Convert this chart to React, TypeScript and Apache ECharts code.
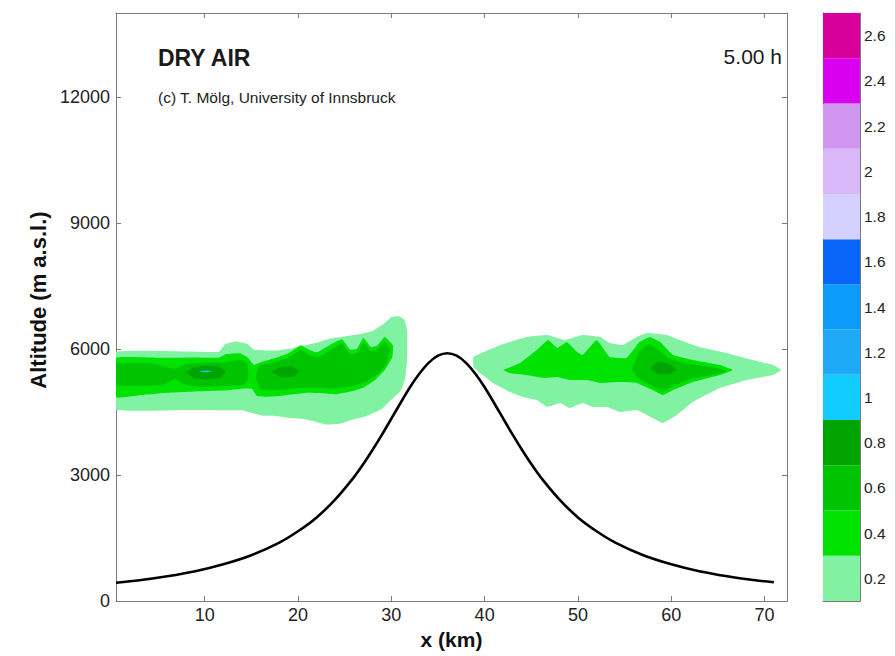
import React, { useEffect, useRef } from "react";
import * as echarts from "echarts";

// ---------- axis ticks ----------
const xTicks = [10, 20, 30, 40, 50, 60, 70];
const yTicks = [0, 3000, 6000, 9000, 12000];
const cbTicks = [0.2, 0.4, 0.6, 0.8, 1, 1.2, 1.4, 1.6, 1.8, 2, 2.2, 2.4, 2.6];

// ---------- colour bar levels ----------
const cbEdges = [0.1, 0.3, 0.5, 0.7, 0.9, 1.1, 1.3, 1.5, 1.7, 1.9, 2.1, 2.3, 2.5, 2.7];
const cbColors = [
  "#80f2a2", "#00e200", "#00c400", "#00a400", "#12ccff", "#1eaaf6", "#0b9cfa",
  "#0766f8", "#d4d0ff", "#d8b8f8", "#d196f0", "#d900f0", "#d8009a",
];

// ---------- terrain (x km, altitude m) ----------
const terrainX = [0.5, 3, 6, 9, 12, 15, 18, 20, 22, 24, 26, 27, 28, 29, 30, 31, 32, 33, 34, 35, 36, 37, 38, 39, 40, 41, 42, 43, 44, 45, 46, 48, 50, 52, 54, 57, 60, 63, 66, 69, 71];
const terrainAlt = [435, 495, 590, 710, 875, 1090, 1390, 1660, 1990, 2420, 2950, 3260, 3600, 3960, 4340, 4720, 5090, 5410, 5670, 5840, 5900, 5840, 5670, 5410, 5090, 4720, 4340, 3960, 3600, 3260, 2950, 2420, 1990, 1660, 1390, 1090, 875, 710, 590, 495, 445];

// ---------- contour outlines [x km, altitude m] ----------
const lightLeft = [
  [0.5, 5930], [11.5, 5930], [12.2, 6120], [13.4, 6180], [14.6, 6120], [15.3, 5980], [17.5, 5960],
  [19, 6000], [20.5, 6080], [22, 6150], [23.5, 6250], [25, 6300], [26.5, 6350], [28, 6430],
  [29.2, 6600], [30, 6760], [30.8, 6780], [31.4, 6700], [31.7, 6450], [31.7, 5800], [31.5, 5300],
  [31, 5000], [29.8, 4750], [29, 4570], [27.3, 4400], [26, 4330], [24.5, 4220], [23, 4200],
  [21.7, 4280], [20.5, 4340], [19, 4360], [17.8, 4400], [16.3, 4410], [15, 4480], [14, 4540],
  [8, 4550], [0.5, 4560],
];
const lightRight = [
  [38.8, 5810], [41.7, 6096], [44.5, 6287], [46.7, 6334], [48.6, 6215], [50.5, 6334], [52.4, 6287],
  [53.4, 6144], [54.8, 6096], [56.3, 6287], [57.4, 6382], [59.5, 6334], [60.9, 6215], [63.0, 6048],
  [65.9, 5905], [68.7, 5739], [70.9, 5620], [71.8, 5500], [70.9, 5381], [68.1, 5262], [65.2, 5071],
  [62.3, 4738], [60.6, 4428], [59.1, 4237], [58.0, 4356], [56.3, 4546], [54.5, 4499], [53.1, 4618],
  [51.6, 4618], [50.5, 4713], [49.1, 4594], [48.1, 4713], [46.7, 4618], [45.6, 4785], [44.1, 4857],
  [42.7, 4976], [40.9, 5191], [39.5, 5429], [38.8, 5572],
];
const greenLeft = [
  [0.5, 5790], [5, 5790], [9, 5800], [11.5, 5790], [12.3, 5880], [13.8, 5900], [14.6, 5800],
  [15.3, 5620], [16.2, 5700], [17.5, 5780], [19, 5900], [20.3, 6090], [21, 6000], [22, 5920],
  [23.3, 6080], [24.7, 6230], [25.6, 5980], [26.3, 6000], [27, 6270], [27.8, 6050], [28.5, 6080],
  [29.3, 6290], [30.2, 6080], [30.1, 5800], [29.3, 5500], [28.2, 5250], [27, 5080], [25.5, 4980],
  [24, 4920], [22.5, 4950], [21, 4960], [19.5, 4920], [18, 4880], [16.5, 4860], [15.6, 4880],
  [15.1, 5050], [14.3, 5060], [12, 5010], [9, 4990], [6, 4960], [3, 4900], [0.5, 4850],
];
const greenRight = [
  [42.0, 5500], [43.8, 5667], [45.6, 5977], [46.8, 6215], [47.8, 6025], [48.8, 6168], [49.9, 5929],
  [50.5, 5857], [52.0, 6215], [53.4, 5810], [55.2, 5786], [56.6, 6168], [57.7, 6287], [58.8, 6168],
  [60.2, 5857], [62.3, 5739], [65.2, 5620], [66.6, 5500], [65.2, 5381], [62.3, 5214], [60.2, 5023],
  [59.1, 4904], [58.0, 5023], [56.3, 5190], [54.2, 5214], [52.4, 5190], [51.0, 5262], [49.1, 5262],
  [47.8, 5333], [46.3, 5310], [44.5, 5381], [42.7, 5429],
];
const midLeftA = [
  [0.5, 5650], [4, 5660], [5.5, 5600], [6.8, 5520], [8, 5640], [10, 5680], [12, 5680], [13.8, 5740],
  [14.6, 5650], [14.7, 5300], [14.2, 5150], [12, 5120], [9.5, 5100], [8, 5150], [6.8, 5280],
  [5.5, 5150], [3, 5120], [0.5, 5130],
];
const midLeftB = [
  [15.8, 5600], [17.5, 5680], [19, 5800], [20.3, 5980], [21.2, 5850], [22.2, 5800], [23.5, 5980],
  [24.7, 6130], [25.6, 5880], [26.4, 5900], [27, 6150], [27.8, 5950], [28.5, 5980], [29.3, 6170],
  [29.9, 5980], [29.5, 5650], [28.5, 5400], [27.3, 5220], [25.8, 5120], [24, 5060], [22, 5080],
  [20, 5070], [18.5, 5030], [17, 5020], [16, 5050], [15.5, 5300],
];
const midRight = [
  [55.8, 5500], [56.6, 5950], [57.6, 6120], [58.6, 5980], [59.8, 5760], [62, 5650], [64.5, 5560],
  [66, 5480], [64.5, 5390], [62, 5280], [60.3, 5130], [59.1, 4990], [58, 5120], [56.5, 5300],
];
const darkLeftA = [
  [8, 5440], [8.8, 5560], [10, 5610], [11.3, 5590], [12.3, 5480], [11.8, 5320], [10.3, 5270], [8.8, 5310],
];
const darkLeftB = [
  [17.2, 5450], [18, 5560], [19.3, 5580], [20.2, 5480], [19.5, 5340], [18.2, 5330],
];
const darkRight = [
  [57.8, 5550], [58.6, 5700], [59.8, 5650], [60.6, 5500], [59.8, 5400], [58.6, 5400],
];
const cyanLeft = [
  [9.3, 5460], [10.2, 5490], [10.9, 5470], [10.1, 5445],
];

const contourShapes = [
  { pts: lightLeft, level: 0 },
  { pts: lightRight, level: 0 },
  { pts: greenLeft, level: 1 },
  { pts: greenRight, level: 1 },
  { pts: midLeftA, level: 2 },
  { pts: midLeftB, level: 2 },
  { pts: midRight, level: 2 },
  { pts: darkLeftA, level: 3 },
  { pts: darkLeftB, level: 3 },
  { pts: darkRight, level: 3 },
  { pts: cyanLeft, level: 4 },
];

const FONT = '"Liberation Sans", Arial, sans-serif';
const AXIS_GRAY = "#7a7a7a";

export default function App() {
  const ref = useRef<HTMLDivElement>(null);

  useEffect(() => {
    if (!ref.current) return;
    const chart = echarts.init(ref.current, null, { renderer: "svg" });

    const boxAxis = (extra: any) => ({
      type: "value",
      splitLine: { show: false },
      axisLine: { show: true, onZero: false, lineStyle: { color: AXIS_GRAY, width: 1 } },
      ...extra,
    });
    const plain = (v: number) => String(v);

    const option: any = {
      animation: false,
      backgroundColor: "#ffffff",
      grid: [
        { left: 116, top: 13, width: 671, height: 588 },
        { left: 823, top: 13, width: 37, height: 588 },
      ],
      xAxis: [
        boxAxis({
          gridIndex: 0, min: 0.5, max: 72.4, position: "bottom",
          axisTick: { show: true, inside: true, length: 5, customValues: xTicks, lineStyle: { color: AXIS_GRAY } },
          axisLabel: { show: true, customValues: xTicks, formatter: plain, color: "#222", fontSize: 18, fontFamily: FONT, margin: 5 },
          name: "x (km)", nameLocation: "middle", nameGap: 19,
          nameTextStyle: { fontWeight: "bold", fontSize: 21, color: "#111", fontFamily: FONT },
        }),
        boxAxis({
          gridIndex: 0, min: 0.5, max: 72.4, position: "top",
          axisTick: { show: true, inside: true, length: 5, customValues: xTicks, lineStyle: { color: AXIS_GRAY } },
          axisLabel: { show: false },
        }),
        boxAxis({ gridIndex: 1, min: 0, max: 1, position: "bottom", axisTick: { show: false }, axisLabel: { show: false } }),
        boxAxis({ gridIndex: 1, min: 0, max: 1, position: "top", axisTick: { show: false }, axisLabel: { show: false } }),
      ],
      yAxis: [
        boxAxis({
          gridIndex: 0, min: 0, max: 14000, position: "left",
          axisTick: { show: true, inside: true, length: 5, customValues: yTicks, lineStyle: { color: AXIS_GRAY } },
          axisLabel: { show: true, customValues: yTicks, formatter: plain, color: "#222", fontSize: 18, fontFamily: FONT, margin: 6 },
          name: "Altitude (m a.s.l.)", nameLocation: "middle", nameGap: 66,
          nameTextStyle: { fontWeight: "bold", fontSize: 22, color: "#111", fontFamily: FONT, padding: [0, 0, 0, 14] },
        }),
        boxAxis({
          gridIndex: 0, min: 0, max: 14000, position: "right",
          axisTick: { show: true, inside: true, length: 5, customValues: yTicks, lineStyle: { color: AXIS_GRAY } },
          axisLabel: { show: false },
        }),
        boxAxis({
          gridIndex: 1, min: 0.1, max: 2.7, position: "right",
          axisTick: { show: true, inside: true, length: 4, customValues: cbTicks, lineStyle: { color: "#333" } },
          axisLabel: { show: true, customValues: cbTicks, formatter: plain, color: "#222", fontSize: 15.5, fontFamily: FONT, margin: 4 },
        }),
        boxAxis({
          gridIndex: 1, min: 0.1, max: 2.7, position: "left",
          axisTick: { show: true, inside: true, length: 4, customValues: cbTicks, lineStyle: { color: "#333" } },
          axisLabel: { show: false },
        }),
      ],
      series: [
        {
          type: "custom",
          xAxisIndex: 0,
          yAxisIndex: 0,
          clip: true,
          z: 2,
          data: contourShapes.map((_, i) => [i]),
          renderItem: (params: any, api: any) => {
            const s = contourShapes[api.value(0)];
            const points = s.pts.map((p) => api.coord(p));
            return {
              type: "polygon",
              shape: { points, smooth: 0.08 },
              style: { fill: cbColors[s.level] },
            };
          },
        },
        {
          type: "line",
          xAxisIndex: 0,
          yAxisIndex: 0,
          z: 5,
          smooth: 0.3,
          symbol: "none",
          lineStyle: { color: "#000", width: 2.6 },
          data: terrainX.map((x, i) => [x, terrainAlt[i]]),
        },
        {
          type: "custom",
          xAxisIndex: 2,
          yAxisIndex: 2,
          z: 1,
          data: cbColors.map((_, i) => [i]),
          renderItem: (params: any, api: any) => {
            const i = api.value(0);
            const p1 = api.coord([0, cbEdges[i]]);
            const p2 = api.coord([1, cbEdges[i + 1]]);
            return {
              type: "rect",
              shape: { x: p1[0], y: p2[1], width: p2[0] - p1[0], height: p1[1] - p2[1] },
              style: { fill: cbColors[i] },
            };
          },
        },
      ],
      graphic: [
        {
          type: "text", left: 158, top: 46, z: 10,
          style: { text: "DRY AIR", font: `bold 23px ${FONT}`, fill: "#1a1a1a" },
        },
        {
          type: "text", left: 158, top: 89, z: 10,
          style: { text: "(c) T. Mölg, University of Innsbruck", font: `15.5px ${FONT}`, fill: "#222" },
        },
        {
          type: "text", right: 895 - 782, top: 46, z: 10,
          style: { text: "5.00 h", font: `21px ${FONT}`, fill: "#1a1a1a" },
        },
      ],
    };

    chart.setOption(option);
    return () => chart.dispose();
  }, []);

  return <div ref={ref} style={{ width: 895, height: 656, position: "absolute", left: 0, top: 0 }} />;
}
